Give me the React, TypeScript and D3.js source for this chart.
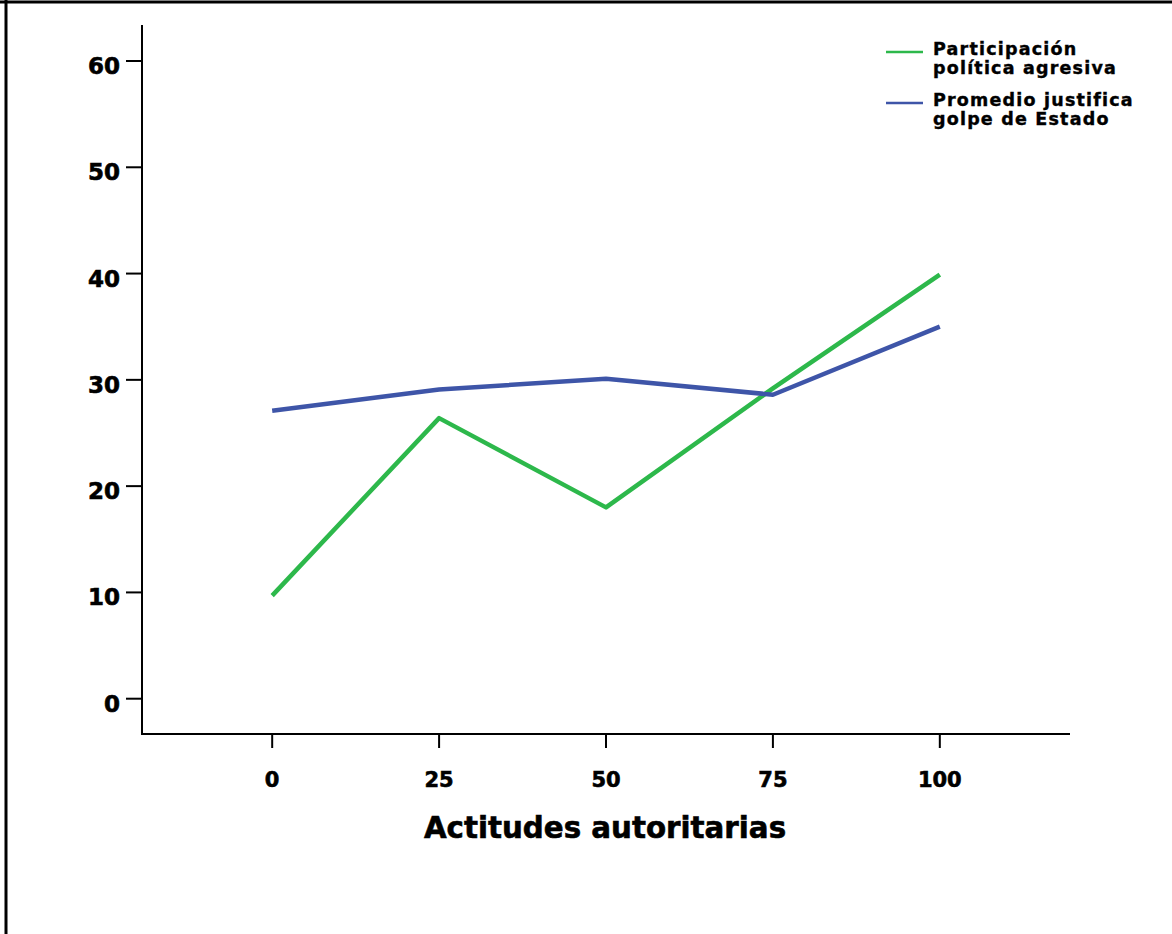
import React from "react";
import * as d3 from "d3";

const xValues = [0, 25, 50, 75, 100];
const participacion = [9.7, 26.4, 18.0, 29.2, 39.9];
const promedio = [27.1, 29.1, 30.1, 28.6, 35.0];
const yTicks = [0, 10, 20, 30, 40, 50, 60];
const xTicks = [0, 25, 50, 75, 100];
const seriesNames = [
  ["Participación", "política agresiva"],
  ["Promedio justifica", "golpe de Estado"],
];
const colors = ["#2db84b", "#3e55a8"];

const W = 1172;
const H = 934;
const font = "'DejaVu Sans', Verdana, sans-serif";

export default function App() {
  const x = d3.scaleLinear().domain([-19.5, 119.5]).range([142, 1070]);
  const y = d3.scaleLinear().domain([0, 60]).range([698.7, 61]);
  const yTop = 25;
  const yBottom = 734;
  const line = d3
    .line<number>()
    .x((_, i) => x(xValues[i]))
    .y((d) => y(d));
  const series = [participacion, promedio];
  const textStyle = { fontFamily: font, fontWeight: 700, stroke: "#000", strokeWidth: 0.6 } as const;

  return (
    <svg
      width={W}
      height={H}
      style={{ position: "absolute", left: 0, top: 0, background: "#fff" }}
    >
      <rect x={0} y={0} width={W} height={H} fill="#fff" />
      {/* frame */}
      <line x1={0} x2={W} y1={2} y2={2} stroke="#000" strokeWidth={3} />
      <line x1={6} x2={6} y1={0} y2={H} stroke="#000" strokeWidth={3} />

      {/* axes */}
      <line x1={142} x2={142} y1={yTop} y2={yBottom + 1} stroke="#000" strokeWidth={2} />
      <line x1={141} x2={1070} y1={yBottom} y2={yBottom} stroke="#000" strokeWidth={2} />
      {yTicks.map((t) => (
        <g key={"y" + t}>
          <line x1={126} x2={142} y1={y(t)} y2={y(t)} stroke="#000" strokeWidth={2} />
          <text x={120} y={y(t) + 13} textAnchor="end" fontSize={23} {...textStyle}>
            {t}
          </text>
        </g>
      ))}
      {xTicks.map((t) => (
        <g key={"x" + t}>
          <line x1={x(t)} x2={x(t)} y1={yBottom} y2={yBottom + 14} stroke="#000" strokeWidth={2} />
          <text x={x(t)} y={787} textAnchor="middle" fontSize={21} {...textStyle}>
            {t}
          </text>
        </g>
      ))}
      <text x={605} y={838} textAnchor="middle" fontSize={29.3} {...textStyle}>
        Actitudes autoritarias
      </text>

      {/* lines */}
      {series.map((s, i) => (
        <path
          key={"s" + i}
          d={line(s) || ""}
          fill="none"
          stroke={colors[i]}
          strokeWidth={4.5}
          strokeLinejoin="round"
        />
      ))}

      {/* legend */}
      {seriesNames.map((names, i) => {
        const ly = 52 + i * 51;
        return (
          <g key={"l" + i}>
            <line x1={886} x2={923} y1={ly} y2={ly} stroke={colors[i]} strokeWidth={2.5} />
            <text x={933} y={ly + 3} fontSize={17.5} letterSpacing={1.2} {...textStyle} strokeWidth={0.4}>
              {names[0]}
            </text>
            <text x={933} y={ly + 22} fontSize={17.5} letterSpacing={1.2} {...textStyle} strokeWidth={0.4}>
              {names[1]}
            </text>
          </g>
        );
      })}
    </svg>
  );
}
